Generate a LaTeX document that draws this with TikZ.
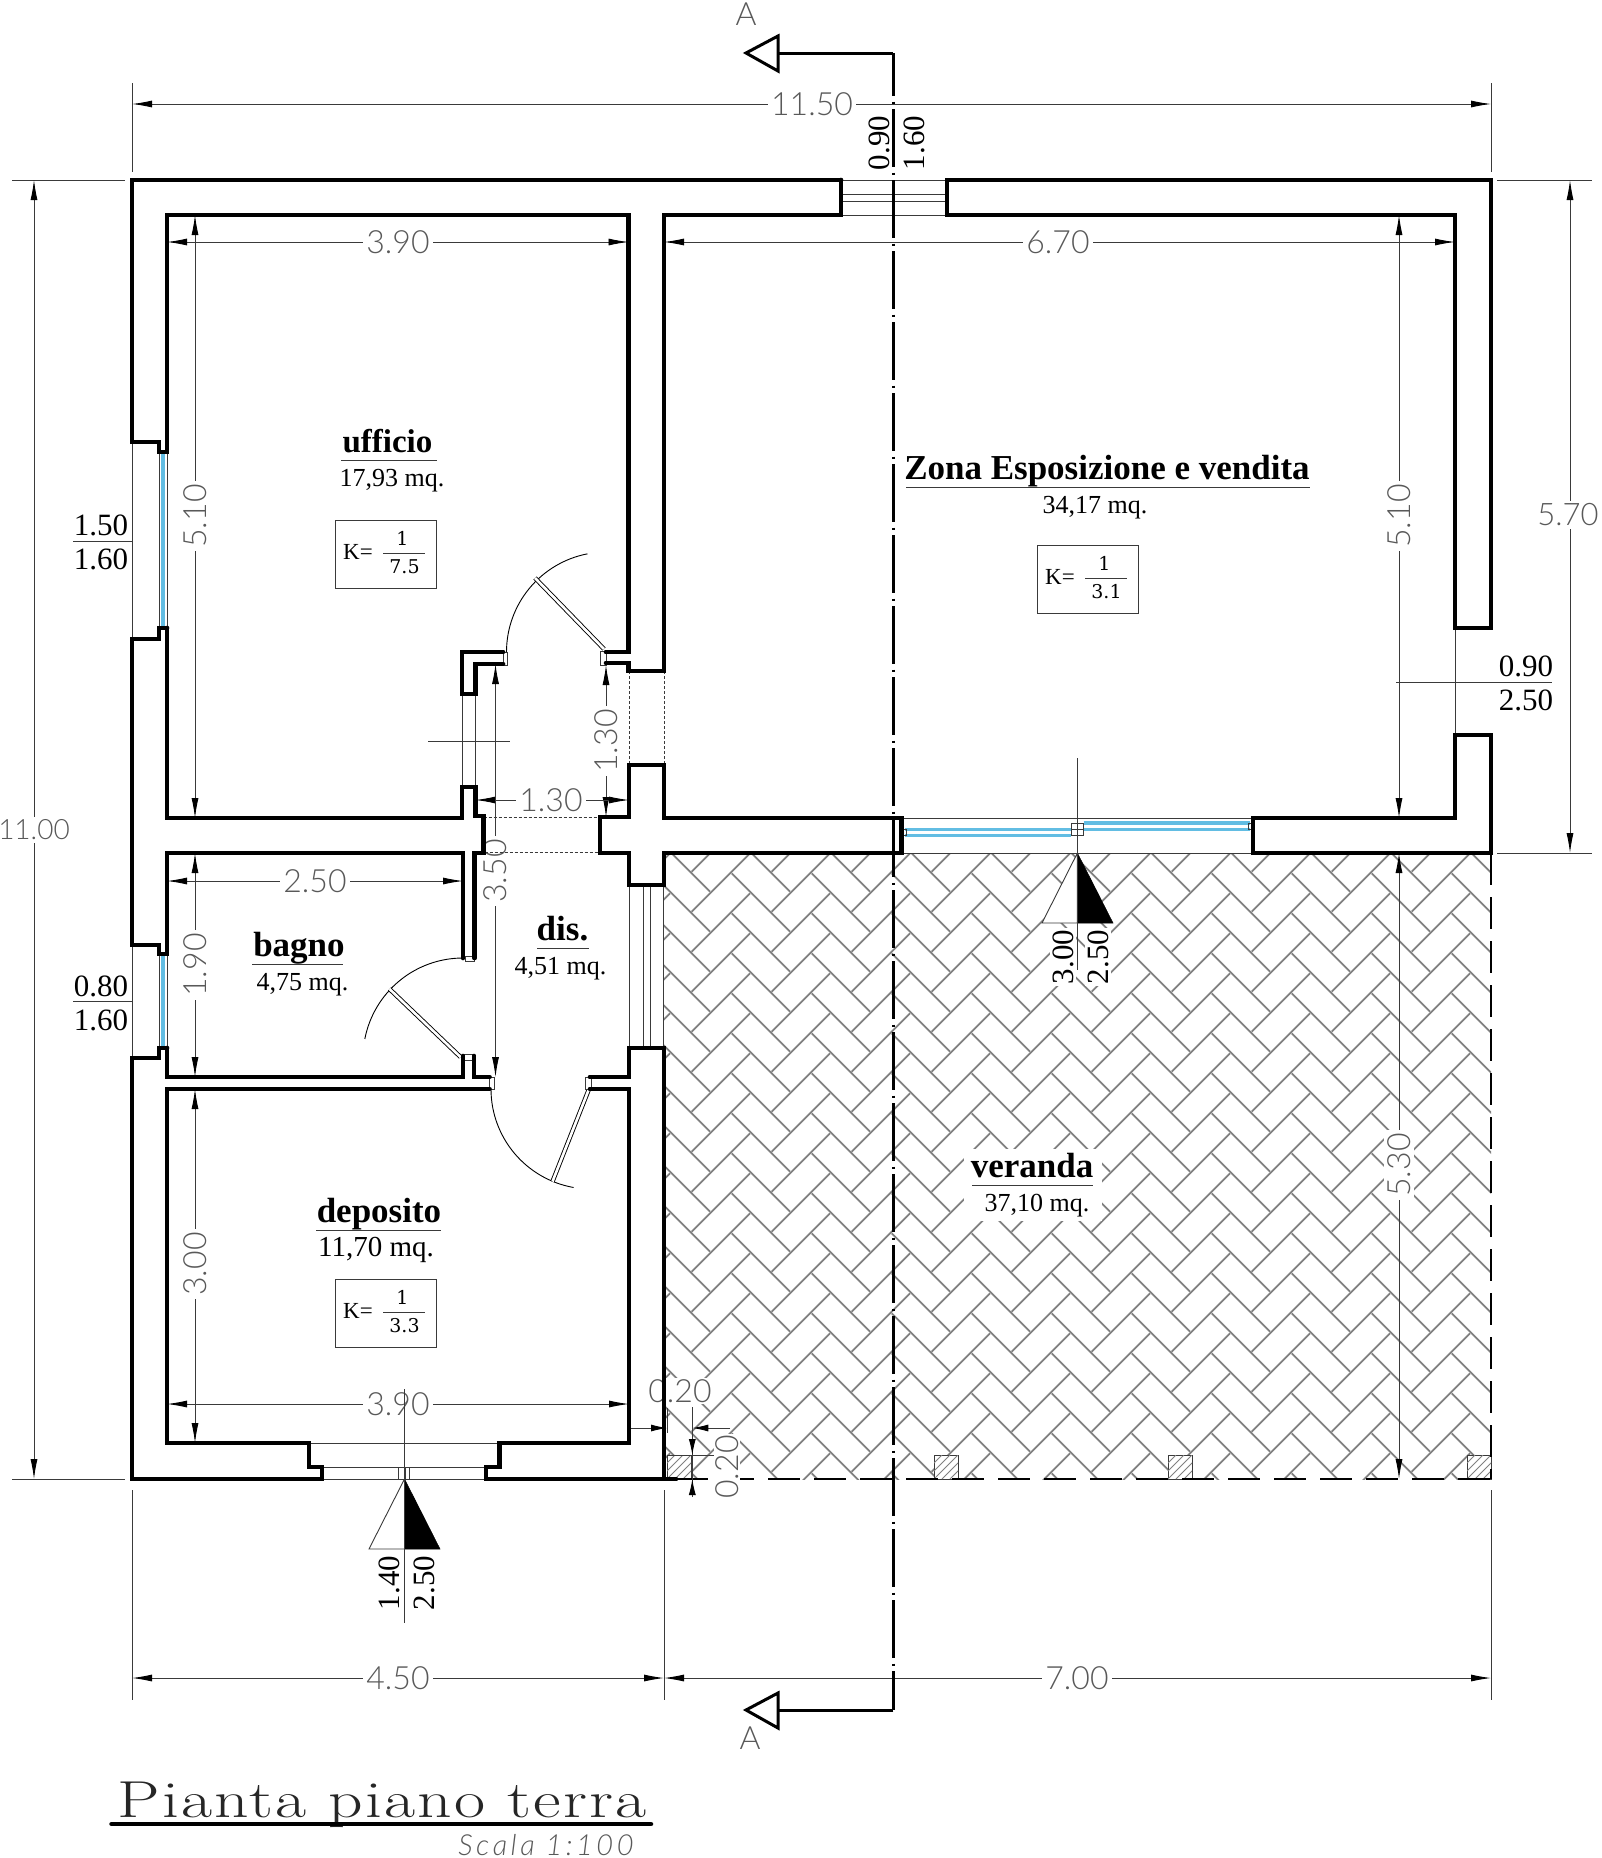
\documentclass[tikz,border=0pt]{standalone}
\usepackage{fontspec}
\usetikzlibrary{arrows.meta,patterns}
\setmainfont{Liberation Serif}
\newfontfamily\dimfont[UprightFont=* Light,ItalicFont=* Light Italic]{Lato}
\newfontfamily\titlefont[FakeStretch=1.3,LetterSpace=4]{Latin Modern Roman}
\newfontfamily\scalafont[LetterSpace=12,UprightFont=* Light,ItalicFont=* Light Italic]{Lato}
\newfontfamily\kfont{DejaVu Serif}
\definecolor{glass}{HTML}{62BDE3}
\definecolor{dimgrey}{HTML}{3A3A3A}
\tikzset{
    wall/.style={line width=4.7pt, line join=miter, line cap=round},
    thinl/.style={line width=0.9pt, draw=dimgrey},
    dimline/.style={thinl, {Latex[length=20pt,width=7pt,black]}-{Latex[length=20pt,width=7pt,black]}},
    dimhalf/.style={thinl, -{Latex[length=16pt,width=7pt,black]}},
    dimtxt/.style={font=\dimfont\fontsize{32}{32}\selectfont, text=black!65, fill=white, inner sep=3pt},
    roomname/.style={font=\bfseries\fontsize{35}{35}\selectfont, inner sep=0pt, anchor=base},
    roomarea/.style={font=\fontsize{26}{26}\selectfont, inner sep=0pt, anchor=base},
    openlbl/.style={font=\fontsize{31}{31}\selectfont, inner sep=0pt},
    glassline/.style={line width=3.2pt, draw=glass},
    dashedl/.style={line width=0.8pt, draw=dimgrey, dash pattern=on 3pt off 2pt},
    leaf/.style={line width=0.9pt, double, double distance=2.6pt},
    swing/.style={line width=0.9pt, draw=black},
    sectline/.style={line width=3.4pt, dash pattern=on 58pt off 5.5pt on 2pt off 5.5pt, dash phase=15pt},
    sectarrow/.style={line width=3pt, line join=miter},
}
\newcommand{\kbox}[4]{ % top left x, top left y, denominator, name
    \draw[thinl] (#1,#2) rectangle +(101,68);
    \node[font=\fontsize{23}{23}\selectfont] (k#4) at (#1+23,#2+32) {K=};
    \draw[thinl] (#1+48,#2+33) -- (#1+90,#2+33);
    \node[font=\kfont\fontsize{19}{19}\selectfont] (kn#4) at (#1+67.5,#2+18) {1};
    \node[font=\kfont\fontsize{19}{19}\selectfont] (kd#4) at (#1+69.5,#2+47) {#3};
}
\begin{document}
\begin{tikzpicture}[x=1pt, y=-1pt]
    \useasboundingbox (0,0) rectangle (1601,1858);
    % veranda paving
    \def\hx{691.67}
    \def\hy{911.67}
    \begin{scope}
        \clip (664,853) rectangle (1491,1479);
        \foreach \i in {-1,...,10} {
            \foreach \j in {-3,...,16} {
                \draw [draw=gray, line width=1.7pt] (\hx+80*\i,\hy+40*\j) -- ++(58.3,-58.3);
                \draw [draw=gray, line width=1.7pt] (\hx+40+80*\i,\hy-38.33+40*\j) -- ++(58.3,58.3);
            }
        }
    \end{scope}
    % small piers
    \foreach \px in {667,934,1168,1467} {
        \draw [thinl, fill=white] (\px,1455) rectangle +(24,24);
        \begin{scope}
            \clip (\px,1455) rectangle +(24,24);
            \foreach \k in {-24,-16,...,24} {
                \draw [draw=gray, line width=1pt] (\px+\k,1479) -- ++(24,-24);
            }
        \end{scope}
    }
    \draw [line width=1.5pt, dash pattern=on 32pt off 14pt] (676,1479) -- (1491,1479);
    \draw [line width=1.5pt, dash pattern=on 32pt off 12pt] (1491,853) -- (1491,1479);
    % extension lines
    \draw [thinl] (132,83) -- (132,172);
    \draw [thinl] (1491,83) -- (1491,172);
    \draw [thinl] (12,180) -- (125,180);
    \draw [thinl] (12,1479) -- (125,1479);
    \draw [thinl] (1497,180) -- (1592,180);
    \draw [thinl] (1497,853) -- (1592,853);
    \draw [thinl] (132,1490) -- (132,1700);
    \draw [thinl] (664,1490) -- (664,1700);
    \draw [thinl] (1491,1490) -- (1491,1700);
    % dimensions
    \draw [dimline] (132,104) -- (1491,104);
    \node [dimtxt] (d1150) at (812,104) {11.50};
    \draw [dimline] (34,180) -- (34,1479);
    \node [dimtxt, font=\dimfont\fontsize{28}{28}\selectfont] (d1100) at (34,830) {11.00};
    \draw [dimline] (1570,180) -- (1570,853);
    \node [dimtxt, font=\dimfont\fontsize{31}{31}\selectfont] (d570) at (1568,515) {5.70};
    \draw [dimline] (132,1678) -- (664,1678);
    \node [dimtxt] (d450) at (398,1678) {4.50};
    \draw [dimline] (664,1678) -- (1491,1678);
    \node [dimtxt] (d700) at (1077,1678) {7.00};
    \draw [dimline] (167,242) -- (628.5,242);
    \node [dimtxt] (d390a) at (398,242) {3.90};
    \draw [dimline] (664,242) -- (1455,242);
    \node [dimtxt] (d670) at (1058,242) {6.70};
    \draw [dimline] (195,215) -- (195,818);
    \node [dimtxt, rotate=90] (d510a) at (195,516) {5.10};
    \draw [dimline] (1399,215) -- (1399,818);
    \node [dimtxt, rotate=90] (d510b) at (1399,516) {5.10};
    \draw [dimline] (1399,853) -- (1399,1479);
    \node [dimtxt, rotate=90] (d530) at (1399,1165) {5.30};
    \draw [dimline] (606,665) -- (606,817);
    \node [dimtxt, rotate=90] (d130a) at (606,741) {1.30};
    \draw [dimline] (475.5,800) -- (629,800);
    \node [dimtxt] (d130b) at (551,800) {1.30};
    \draw [dimline] (495.5,664) -- (495.5,1077);
    \node [dimtxt, rotate=90] (d350) at (495.5,871) {3.50};
    \draw [dimline] (167,881) -- (463,881);
    \node [dimtxt] (d250) at (315,881) {2.50};
    \draw [dimline] (195,853) -- (195,1077);
    \node [dimtxt, rotate=90] (d190) at (195,965) {1.90};
    \draw [dimline] (195,1089) -- (195,1443);
    \node [dimtxt, rotate=90] (d300) at (195,1264) {3.00};
    \draw [dimline] (167,1404) -- (629,1404);
    \node [dimtxt] (d390b) at (398,1404) {3.90};
    % small dimensions at the pier
    \draw [dimhalf] (629,1428) -- (667,1428);
    \draw [dimhalf] (730,1428) -- (692.3,1428);
    \draw [thinl] (667,1408) -- (667,1433);
    \draw [thinl] (692.3,1407) -- (692.3,1490);
    \draw [thinl] (667,1455) -- (715,1455);
    \draw [dimhalf] (692.3,1433) -- (692.3,1455);
    \draw [dimhalf] (692.3,1497) -- (692.3,1479);
    \node [dimtxt, inner sep=1pt] (d020a) at (680,1391) {0.20};
    \node [dimtxt, rotate=90, inner sep=1pt] (d020b) at (727,1467) {0.20};
    % rooms
    \node [roomname, font=\bfseries\fontsize{33}{33}\selectfont] (ufficio) at (387.5,452) {ufficio};
    \draw [thinl] (341,460) -- (437,460);
    \node [roomarea] (aufficio) at (392,486) {17,93 mq.};
    \kbox{335}{520}{7.5}{uff}
    \node [roomname] (zona) at (1107,479) {Zona Esposizione e vendita};
    \draw [thinl] (906,487) -- (1310,487);
    \node [roomarea] (azona) at (1095,513) {34,17 mq.};
    \kbox{1037}{545}{3.1}{zona}
    \node [roomname] (bagno) at (299,956) {bagno};
    \draw [thinl] (252,964) -- (343,964);
    \node [roomarea] (abagno) at (302.5,990) {4,75 mq.};
    \node [roomname] (dis) at (562.5,940) {dis.};
    \draw [thinl] (537,948) -- (589,948);
    \node [roomarea] (adis) at (560.5,974) {4,51 mq.};
    \node [roomname] (deposito) at (379,1222) {deposito};
    \draw [thinl] (316,1230) -- (441,1230);
    \node [roomarea, font=\fontsize{29}{29}\selectfont] (adeposito) at (376,1256) {11,70 mq.};
    \kbox{335}{1279}{3.3}{dep}
    \node [fill=white, minimum width=138pt, minimum height=72pt, inner sep=0pt] (verandabg) at (1033,1185) {};
    \node [roomname] (veranda) at (1032,1177) {veranda};
    \node [roomarea] (averanda) at (1037,1211) {37,10 mq.};
    \draw [thinl] (972,1185) -- (1093,1185);
    % openings labels
    \node [openlbl] (o150) at (101,525) {1.50};
    \node [openlbl] (o160a) at (101,559) {1.60};
    \draw [thinl] (73,541) -- (132,541);
    \node [openlbl] (o080) at (101,986) {0.80};
    \node [openlbl] (o160b) at (101,1020) {1.60};
    \draw [thinl] (73,1001) -- (132,1001);
    \node [openlbl] (o090a) at (1526,666) {0.90};
    \node [openlbl] (o250a) at (1526,700) {2.50};
    \draw [thinl] (1396,682) -- (1552,682);
    \node [openlbl, rotate=90] (o090b) at (879,143) {0.90};
    \node [openlbl, rotate=90] (o160c) at (914,143) {1.60};
    \node [openlbl, rotate=90] (o140) at (389,1583) {1.40};
    \node [openlbl, rotate=90] (o250b) at (424,1583) {2.50};
    \node [openlbl, rotate=90, fill=white, inner sep=2pt] (o300) at (1063,957) {3.00};
    \node [openlbl, rotate=90, fill=white, inner sep=2pt] (o250c) at (1098,957) {2.50};
    % windows and thin wall lines
    \draw [glassline] (163,452) -- (163,628);
    \draw [glassline] (163,954) -- (163,1048);
    \foreach \wx in {132,159,167} {
        \draw [thinl] (\wx,442) -- (\wx,639);
        \draw [thinl] (\wx,945) -- (\wx,1058);
    }
    \foreach \wy in {180,194,201,215} {
        \draw [thinl] (841,\wy) -- (947,\wy);
    }
    \foreach \wx in {629,643,650,663.5} {
        \draw [thinl] (\wx,885) -- (\wx,1048);
    }
    \draw [thinl] (462,694) -- (462,787);
    \draw [thinl] (475.5,694) -- (475.5,787);
    \draw [thinl] (428,741) -- (510,741);
    \draw [thinl] (1455,628) -- (1455,735);
    \draw [thinl] (309,1443) -- (499.5,1443);
    \draw [thinl] (322,1467) -- (486,1467);
    \draw [thinl] (322,1479) -- (486,1479);
    \draw [thinl] (398,1467) -- (398,1479);
    \draw [thinl] (405,1467) -- (405,1479);
    \draw [thinl] (409,1467) -- (409,1479);
    \draw [dashedl] (629,671) -- (629,765);
    \draw [dashedl] (664,671) -- (664,765);
    \draw [dashedl] (483.5,817) -- (600,817);
    \draw [dashedl] (474.5,852) -- (600,852);
    % big window
    \draw [thinl] (901,818) -- (1253,818);
    \draw [thinl] (901,853) -- (1253,853);
    \draw [glassline] (905,829.5) -- (1071,829.5);
    \draw [glassline] (905,835.5) -- (1071,835.5);
    \draw [glassline] (1083.5,823) -- (1250,823);
    \draw [glassline] (1083.5,829.5) -- (1250,829.5);
    \draw [thinl] (902.5,829) rectangle (906,835.5);
    \draw [thinl] (1248.5,823) rectangle (1252,829.5);
    \draw [thinl, fill=white] (1071,823) rectangle (1083.5,835.5);
    \draw [thinl] (1071,829) -- (1083.5,829);
    % doors
    \draw [swing] (506.5,652) arc (180:259:100);
    \draw [leaf] (604,649) -- (535,578);
    \draw [thinl, fill=white] (503,652) rectangle (507.5,665);
    \draw [thinl, fill=white] (600,651) rectangle (606,665);
    \draw [swing] (463,958) arc (270:191:100);
    \draw [leaf] (460.5,1057) -- (389.5,989);
    \draw [thinl, fill=white] (465,956) rectangle (474,961);
    \draw [thinl, fill=white] (464,1054) rectangle (474,1060);
    \draw [swing] (491,1089) arc (180:100:100);
    \draw [leaf] (589,1089) -- (552.5,1181.5);
    \draw [thinl, fill=white] (489.5,1077) rectangle (494,1089);
    \draw [thinl, fill=white] (585.5,1077) rectangle (591,1089);
    % walls
    \draw [wall] (841,180) -- (132,180) -- (132,442) -- (159,442) -- (159,452) -- (167,452) -- (167,215) -- (628.5,215) -- (628.5,652) -- (606,652);
    \draw [wall] (841,180) -- (841,215) -- (664,215) -- (664,671) -- (628.5,671) -- (628.5,663) -- (606,663);
    \draw [wall] (167,628) -- (159,628) -- (159,639) -- (132,639) -- (132,945) -- (159,945) -- (159,954) -- (167,954) -- (167,853) -- (463,853) -- (463,958);
    \draw [wall] (167,628) -- (167,818) -- (462,818) -- (462,787) -- (475.5,787) -- (475.5,816) -- (483.5,816) -- (483.5,853) -- (474.5,853) -- (474.5,958);
    \draw [wall] (503,652) -- (462,652) -- (462,694) -- (475.5,694) -- (475.5,664) -- (503,664);
    \draw [wall] (167,1048) -- (159,1048) -- (159,1058) -- (132,1058) -- (132,1479) -- (322,1479) -- (322,1467) -- (309,1467) -- (309,1443) -- (167,1443) -- (167,1089) -- (489.5,1089);
    \draw [wall] (167,1048) -- (167,1077) -- (463,1077) -- (463,1056);
    \draw [wall] (474,1056) -- (474,1077) -- (489.5,1077);
    \draw [wall] (590,1077) -- (629,1077) -- (629,1048) -- (664,1048) -- (664,1479) -- (486,1479) -- (486,1467) -- (499.5,1467) -- (499.5,1443) -- (629,1443) -- (629,1089) -- (590,1089);
    \draw [wall] (600,817) -- (629,817) -- (629,765) -- (664,765) -- (664,818) -- (901.5,818) -- (901.5,853) -- (664,853) -- (664,885) -- (629,885) -- (629,853) -- (600,853) -- cycle;
    \draw [wall] (947,180) -- (1491,180) -- (1491,628) -- (1455,628) -- (1455,215) -- (947,215) -- cycle;
    \draw [wall] (1491,735) -- (1455,735) -- (1455,818) -- (1253,818) -- (1253,853) -- (1491,853) -- cycle;
    \draw [wall] (664,1479) -- (676,1479);
    % view marks
    \draw [thinl, fill=white] (404.5,1479) -- (369,1549) -- (404.5,1549) -- cycle;
    \draw [draw=black, fill=black, line width=0.5pt] (404.5,1479) -- (440,1549) -- (404.5,1549) -- cycle;
    \draw [thinl] (404.5,1389) -- (404.5,1623);
    \draw [thinl, fill=white] (1077.4,853) -- (1042,923) -- (1077.4,923) -- cycle;
    \draw [draw=black, fill=black, line width=0.5pt] (1077.4,853) -- (1113,923) -- (1077.4,923) -- cycle;
    \draw [thinl] (1077.4,758) -- (1077.4,970);
    % section line
    \draw [sectline] (893.4,53) -- (893.4,1710);
    \draw [sectarrow] (893.4,53) -- (778,53);
    \draw [sectarrow] (893.4,1710) -- (778,1710);
    \draw [sectarrow, fill=white] (746,53) -- (778,36) -- (778,71) -- cycle;
    \draw [sectarrow, fill=white] (746,1710) -- (778,1693) -- (778,1728) -- cycle;
    \node [dimtxt, fill=none, inner sep=0pt] (atop) at (746,14) {A};
    \node [dimtxt, fill=none, inner sep=0pt] (abot) at (750,1738) {A};
    % title
    \node [font=\titlefont\fontsize{52}{52}\selectfont, anchor=base, inner sep=0pt, text=black!85] (title) at (382,1817) {Pianta piano terra};
    \draw [line width=4.5pt, line cap=round] (111.5,1824) -- (651,1824);
    \node [font=\scalafont\itshape\fontsize{29}{29}\selectfont, anchor=base, inner sep=0pt, text=black!65] (scala) at (546,1855) {Scala 1:100};
\end{tikzpicture}
\end{document}
